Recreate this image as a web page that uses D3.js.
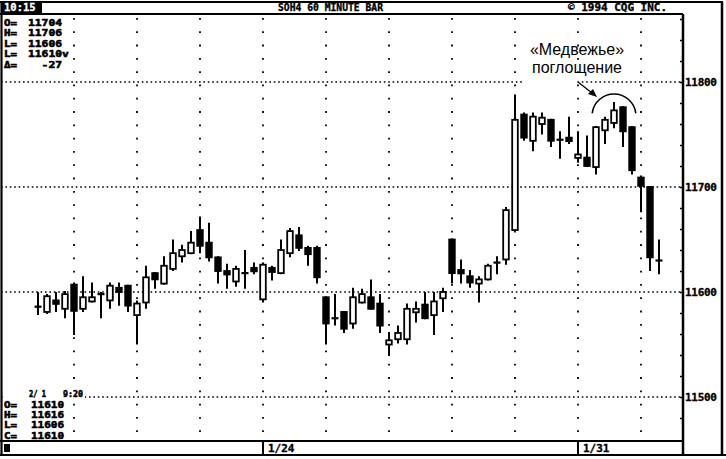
<!DOCTYPE html>
<html><head><meta charset="utf-8">
<script src="https://cdn.jsdelivr.net/npm/d3@7"></script>
<style>body{margin:0;background:#fff}svg{display:block}</style>
</head><body>
<svg id="c" width="726" height="459"></svg>
<script>
// ---- data (SOH4, 60 minute bars) ----
const opens  = [11586,11581,11592,11584,11607,11584,11591,11598,11592,11604,11606,11578,11590,11618,11608,11622,11634,11637,11659,11647,11633,11620,11610,11618,11623,11593,11623,11618,11637,11654,11642,11642,11595,11575,11581,11570,11590,11595,11589,11550,11555,11555,11581,11588,11578,11594,11650,11621,11615,11608,11612,11628,11631,11659,11769,11744,11760,11764,11745,11747,11728,11728,11719,11754,11761,11776,11757,11709,11700,11630];
const highs  = [11600,11598,11600,11601,11609,11615,11609,11600,11609,11609,11607,11592,11625,11619,11634,11650,11645,11658,11672,11666,11634,11627,11625,11640,11628,11628,11625,11650,11661,11662,11644,11644,11596,11598,11582,11604,11603,11612,11598,11562,11568,11589,11591,11600,11600,11604,11651,11631,11621,11615,11627,11634,11681,11788,11771,11771,11771,11765,11753,11767,11753,11749,11758,11767,11781,11777,11758,11711,11701,11650];
const lows   = [11578,11579,11581,11575,11559,11581,11590,11575,11584,11587,11581,11550,11584,11603,11607,11620,11628,11636,11637,11629,11608,11603,11605,11603,11617,11590,11611,11617,11633,11639,11625,11608,11550,11568,11561,11565,11589,11583,11561,11539,11551,11550,11571,11574,11559,11581,11608,11608,11604,11590,11611,11617,11626,11658,11744,11734,11750,11738,11727,11741,11723,11719,11712,11741,11756,11738,11712,11676,11620,11617];
const closes = [11586,11596,11589,11598,11582,11595,11595,11598,11606,11600,11587,11589,11614,11612,11625,11637,11640,11647,11644,11633,11620,11617,11622,11618,11620,11626,11619,11640,11658,11642,11636,11614,11570,11575,11565,11595,11598,11584,11568,11554,11561,11584,11584,11575,11591,11600,11618,11618,11609,11612,11625,11628,11678,11764,11747,11767,11766,11744,11745,11744,11731,11720,11757,11764,11773,11753,11716,11701,11633,11630];
const dayStarts = [4, 11, 18, 25, 32, 39, 46, 53, 60, 67];
const dayLabels = [{i: 25, t: "1/24"}, {i: 60, t: "1/31"}];
const yTicks = [11500, 11600, 11700, 11800];
const minorTicks = d3.range(11440, 11861, 20);
const title = "SOH4 60 MINUTE BAR";
const copyright = "\u00A9 1994 CQG INC.";
const timeLabel = "10:15";
const topInfoKeys = ["O=", "H=", "L=", "L=", "\u0394="];
const topInfoVals = ["11704", "11706", "11606", "11610v", "-27"];
const bottomHead = ["2/ 1", "9:20"];
const bottomInfoKeys = ["O=", "H=", "L=", "C="];
const bottomInfoVals = ["11610", "11616", "11606", "11610"];
const annotation = ["\u00ABМедвежье\u00BB", "поглощение"];

const svg = d3.select("#c");
const MONO = "'DejaVu Sans Mono', monospace";
const plotL = 1, plotR = 683, plotT = 14, plotB = 441;

const idx = d3.range(opens.length);
const x = d3.scalePoint().domain(idx).range([38, 38 + 9 * (opens.length - 1)]);
const y = d3.scaleLinear().domain([11500, 11800]).range([397, 82]);

function boldText(sel, sw = 0.35) {
  return sel.attr("font-family", MONO).attr("font-weight", "bold")
    .attr("stroke", "#000").attr("stroke-width", sw).attr("fill", "#000");
}

// gridlines
const grid = svg.append("g");
grid.selectAll("line.h").data(yTicks).join("line")
  .attr("x1", plotL).attr("x2", plotR).attr("y1", d => y(d)).attr("y2", d => y(d))
  .attr("stroke", "#000").attr("stroke-width", 1.6).attr("stroke-dasharray", "1.6,2.8");
grid.selectAll("line.v").data(dayStarts).join("line")
  .attr("x1", d => x(d)).attr("x2", d => x(d)).attr("y1", plotT + 4).attr("y2", plotB)
  .attr("stroke", "#000").attr("stroke-width", 1.8).attr("stroke-dasharray", "1.8,11.5");

// candles
const g = svg.append("g");
idx.forEach(i => {
  const cx = x(i);
  g.append("line").attr("x1", cx).attr("x2", cx)
    .attr("y1", y(highs[i])).attr("y2", y(lows[i]))
    .attr("stroke", "#000").attr("stroke-width", 2);
  const o = opens[i], c = closes[i];
  if (Math.abs(o - c) < 1.5) {
    g.append("line").attr("x1", cx - 3.5).attr("x2", cx + 3.5)
      .attr("y1", y(o)).attr("y2", y(o)).attr("stroke", "#000").attr("stroke-width", 2.2);
  } else {
    const top = y(Math.max(o, c)), bot = y(Math.min(o, c));
    const h = Math.max(3.5, bot - top);
    g.append("rect").attr("x", cx - 2.8).attr("width", 5.6)
      .attr("y", top).attr("height", h)
      .attr("fill", o > c ? "#000" : "#fff")
      .attr("stroke", "#000").attr("stroke-width", 1.8);
  }
});

// frame
const frame = svg.append("g").attr("stroke", "#000").attr("fill", "none");
frame.append("line").attr("x1", 0).attr("x2", 723).attr("y1", 2).attr("y2", 2).attr("stroke-width", 2);
frame.append("line").attr("x1", 0).attr("x2", plotR).attr("y1", plotT).attr("y2", plotT).attr("stroke-width", 2);
frame.append("line").attr("x1", 1.5).attr("x2", 1.5).attr("y1", 2).attr("y2", 456).attr("stroke-width", 2.2);
frame.append("line").attr("x1", plotR).attr("x2", plotR).attr("y1", plotT).attr("y2", 456).attr("stroke-width", 2.5);
frame.append("line").attr("x1", 722).attr("x2", 722).attr("y1", 2).attr("y2", 456).attr("stroke-width", 2.5);
frame.append("line").attr("x1", 0).attr("x2", plotR).attr("y1", plotB).attr("y2", plotB).attr("stroke-width", 2);
frame.append("line").attr("x1", 0).attr("x2", 726).attr("y1", 455).attr("y2", 455).attr("stroke-width", 2);

// right axis
const yAxis = svg.append("g").attr("transform", `translate(${plotR},0)`)
  .call(d3.axisRight(y).tickValues(yTicks).tickSize(0).tickPadding(2).tickFormat(d3.format("d")));
yAxis.select(".domain").remove();
boldText(yAxis.selectAll("text")).attr("font-size", 11).attr("letter-spacing", -0.3);
const minor = svg.append("g").attr("transform", `translate(${plotR},0)`)
  .call(d3.axisLeft(y).tickValues(minorTicks.filter(v => y(v) > plotT + 3 && y(v) < plotB - 3)).tickSize(3).tickFormat(""));
minor.select(".domain").remove();
minor.selectAll("line").attr("stroke-width", 1.5);

// header
const hdr = svg.append("g");
hdr.append("rect").attr("x", 1).attr("y", 1).attr("width", 41).attr("height", 12).attr("fill", "#000");
boldText(hdr.append("text")).attr("x", 4).attr("y", 11).attr("fill", "#fff").attr("stroke", "#fff")
  .attr("font-size", 10.5).text(timeLabel);
boldText(hdr.append("text")).attr("x", 278).attr("y", 11).attr("font-size", 10.5)
  .attr("textLength", 105).attr("lengthAdjust", "spacingAndGlyphs").text(title);
boldText(hdr.append("text")).attr("x", 568).attr("y", 11).attr("font-size", 10.5)
  .attr("textLength", 99).attr("lengthAdjust", "spacingAndGlyphs").text(copyright);

// top info readout
const INFO_FS = 8.9;
const ti = svg.append("g");
topInfoKeys.forEach((k, r) => {
  const by = 26 + r * 10.4;
  boldText(ti.append("text"), 0.55).attr("font-size", INFO_FS).attr("x", 4).attr("y", by)
    .attr("textLength", 13).attr("lengthAdjust", "spacingAndGlyphs").text(k);
  const v = topInfoVals[r];
  boldText(ti.append("text"), 0.55).attr("font-size", INFO_FS)
    .attr("x", r === 4 ? 62 - 6.8 * v.length : 28).attr("y", by)
    .attr("textLength", 6.8 * v.length).attr("lengthAdjust", "spacingAndGlyphs").text(v);
});

// bottom info readout (white background behind the date row)
svg.append("rect").attr("x", 3).attr("y", 388).attr("width", 82).attr("height", 11).attr("fill", "#fff");
const bi = svg.append("g");
boldText(bi.append("text"), 0.55).attr("font-size", INFO_FS).attr("x", 29).attr("y", 397)
  .attr("textLength", 17).attr("lengthAdjust", "spacingAndGlyphs").text(bottomHead[0]);
boldText(bi.append("text"), 0.55).attr("font-size", INFO_FS).attr("x", 63).attr("y", 397)
  .attr("textLength", 20).attr("lengthAdjust", "spacingAndGlyphs").text(bottomHead[1]);
bottomInfoKeys.forEach((k, r) => {
  const by = 407.6 + r * 10.4;
  boldText(bi.append("text"), 0.55).attr("font-size", INFO_FS).attr("x", 4).attr("y", by)
    .attr("textLength", 13).attr("lengthAdjust", "spacingAndGlyphs").text(k);
  boldText(bi.append("text"), 0.55).attr("font-size", INFO_FS).attr("x", 31).attr("y", by)
    .attr("textLength", 33).attr("lengthAdjust", "spacingAndGlyphs").text(bottomInfoVals[r]);
});

// bottom date strip
const strip = svg.append("g");
strip.append("rect").attr("x", 4).attr("y", 444).attr("width", 6).attr("height", 8).attr("fill", "#000");
dayLabels.forEach(d => {
  strip.append("line").attr("x1", x(d.i)).attr("x2", x(d.i)).attr("y1", plotB).attr("y2", 455)
    .attr("stroke", "#000").attr("stroke-width", 2);
  boldText(strip.append("text")).attr("x", x(d.i) + 5).attr("y", 452).attr("font-size", 11).text(d.t);
});

// annotation
const ann = svg.append("g");
ann.append("rect").attr("x", 522).attr("y", 79).attr("width", 54).attr("height", 6).attr("fill", "#fff");
ann.selectAll("text").data(annotation).join("text")
  .attr("x", 577).attr("y", (d, k) => 55 + k * 18).attr("text-anchor", "middle")
  .attr("font-family", "'Liberation Sans', Arial, sans-serif").attr("font-size", 16).text(d => d);
ann.append("line").attr("x1", 578).attr("y1", 82).attr("x2", 592).attr("y2", 93)
  .attr("stroke", "#000").attr("stroke-width", 1.3);
ann.append("path").attr("d", "M597,97 L588,94 L593,89 Z").attr("fill", "#000");
const p = d3.path();
p.arc(614, 116, 22, Math.PI * 1.04, Math.PI * 1.96);
ann.append("path").attr("d", p.toString()).attr("fill", "none").attr("stroke", "#000").attr("stroke-width", 1.6);
</script>
</body></html>
